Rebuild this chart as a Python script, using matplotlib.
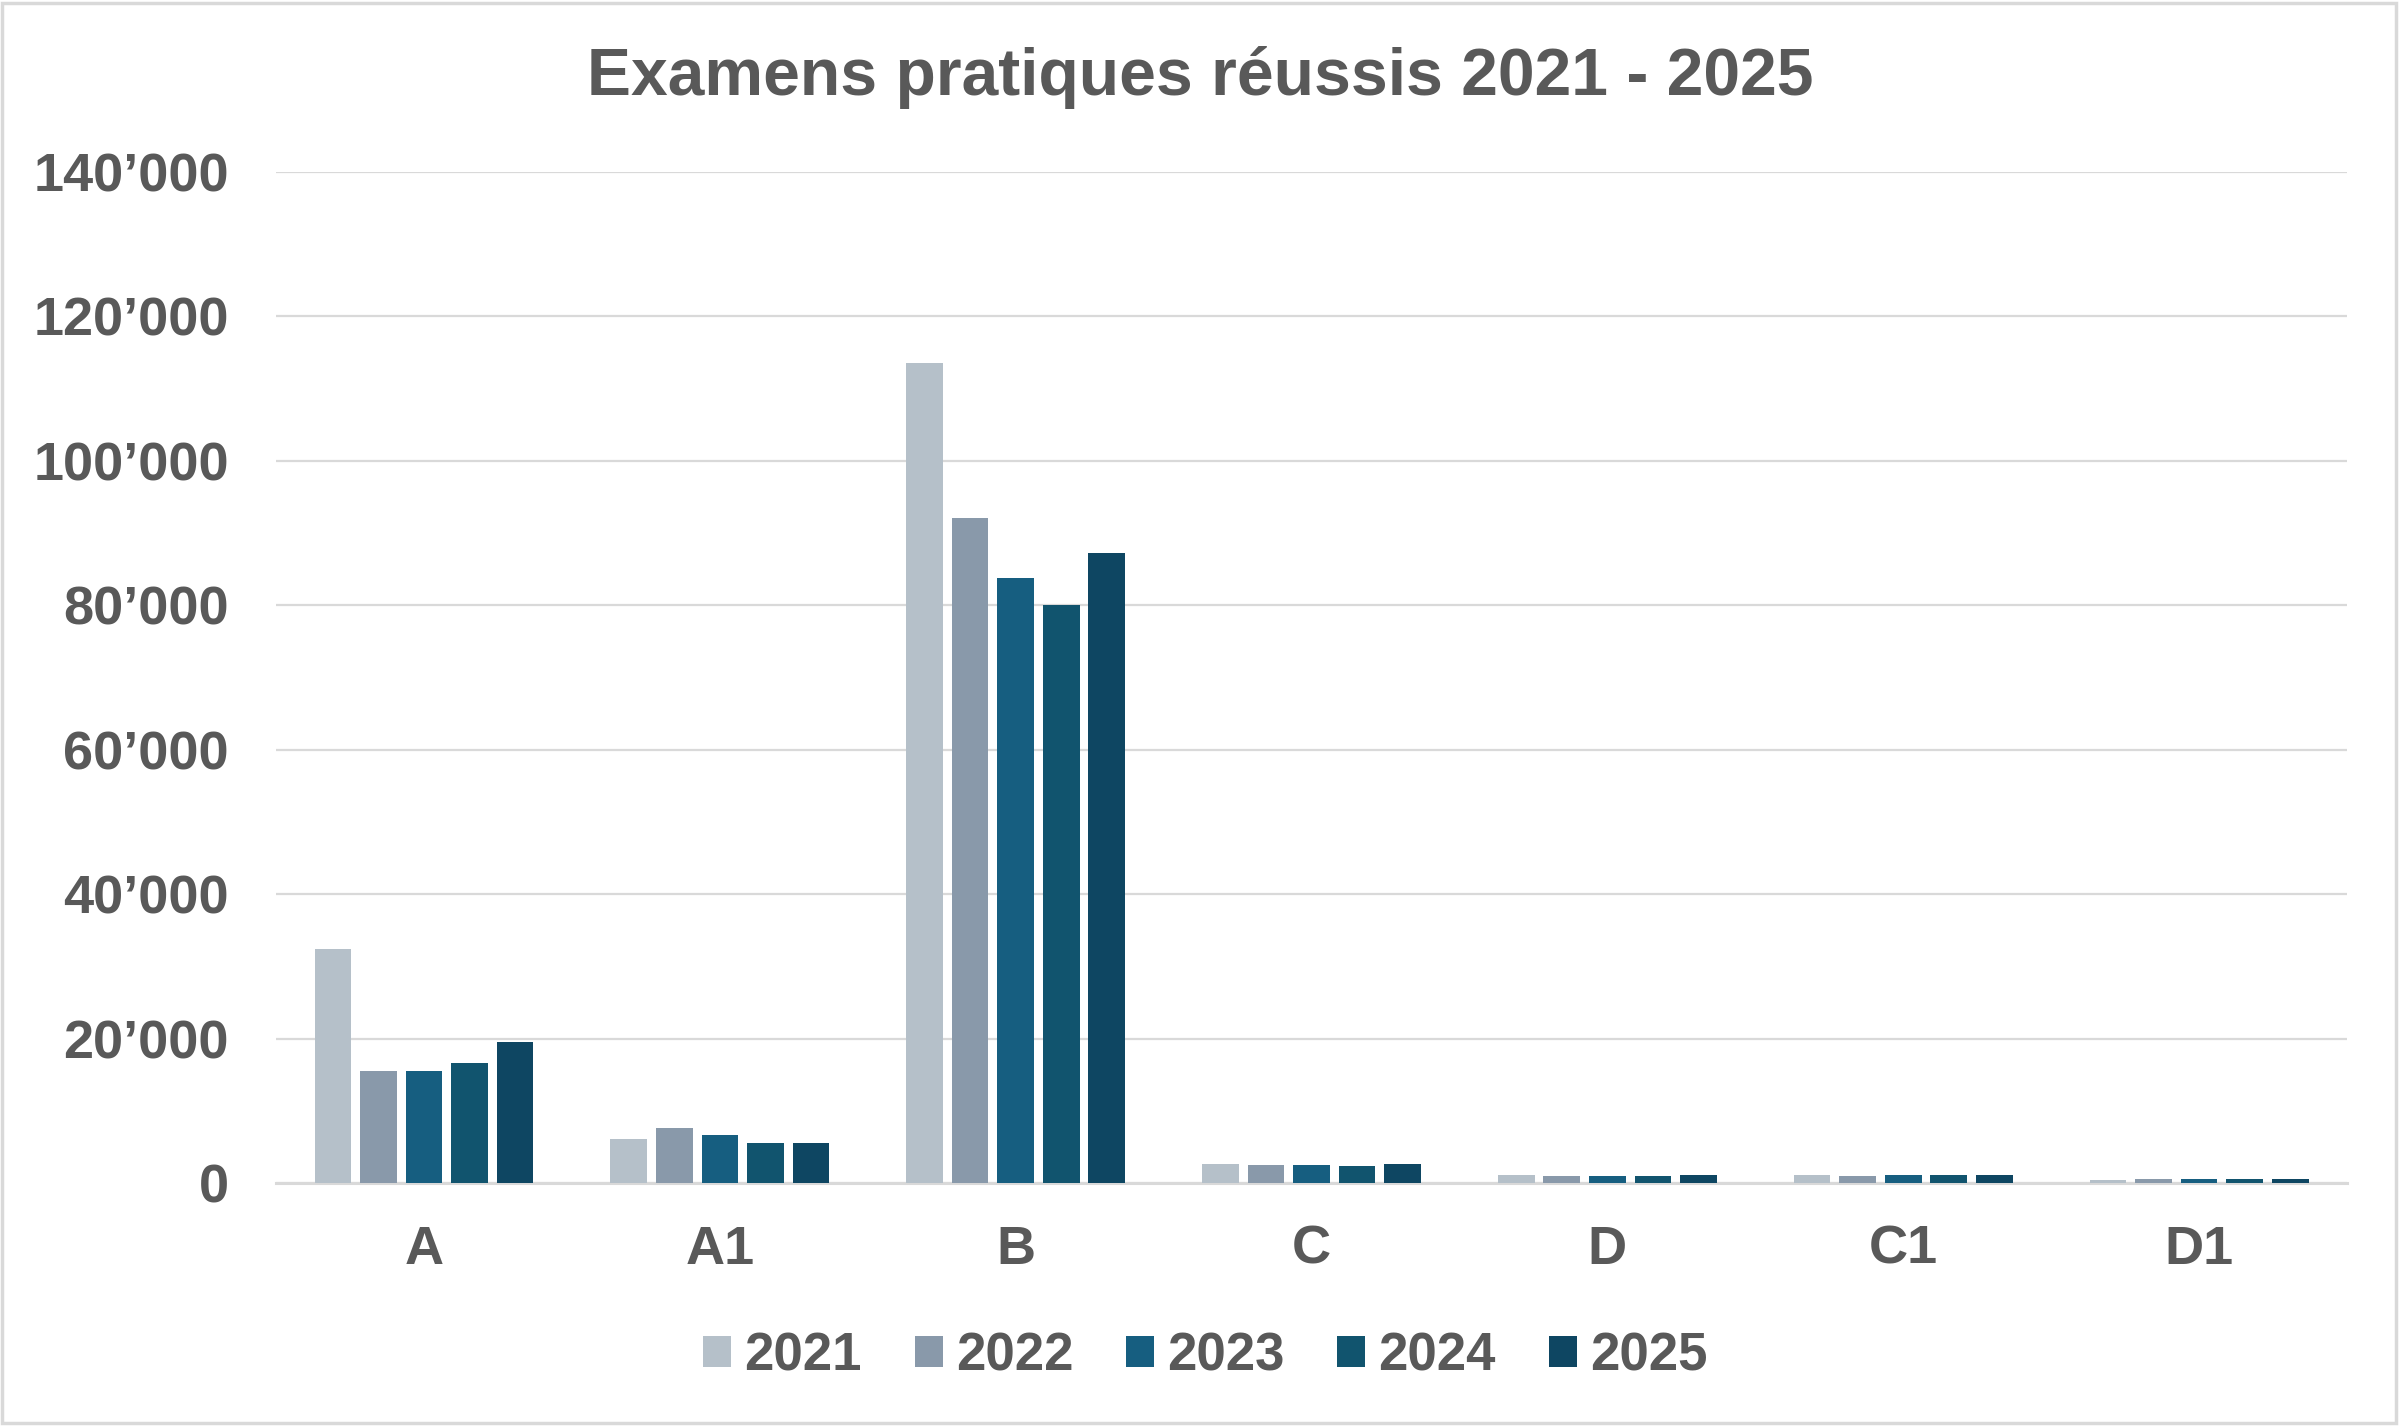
import matplotlib
matplotlib.use("Agg")
import matplotlib.pyplot as plt
import numpy as np
from matplotlib.patches import Rectangle
from matplotlib.ticker import FuncFormatter

categories = ["A", "A1", "B", "C", "D", "C1", "D1"]
years = ["2021", "2022", "2023", "2024", "2025"]

v2021 = [32400, 6150, 113500, 2650, 1100, 1100, 450]
v2022 = [15550, 7550, 92000, 2500, 950, 950, 550]
v2023 = [15550, 6700, 83700, 2500, 950, 1100, 550]
v2024 = [16550, 5600, 80000, 2350, 950, 1100, 550]
v2025 = [19450, 5600, 87200, 2650, 1100, 1100, 550]
series = [v2021, v2022, v2023, v2024, v2025]

colors = ["#B5C0C9", "#8999AA", "#165E80", "#11546E", "#0E4662"]
text_col = "#595959"
grid_col = "#D9D9D9"

plt.rcParams["font.family"] = ["Liberation Sans", "DejaVu Sans"]
plt.rcParams["font.weight"] = "bold"

fig = plt.figure(figsize=(24.01, 14.26), dpi=100)
ax = fig.add_axes([0.115, 0.1704, 0.8625, 0.7093])

x = np.arange(len(categories))
pitch, width = 0.154, 0.124
for j, (vals, c) in enumerate(zip(series, colors)):
    ax.bar(x + (j - 2) * pitch, vals, width, color=c, label=years[j], zorder=3)

ax.set_xlim(-0.5, len(categories) - 0.5)
ax.set_ylim(0, 140000)
ax.set_yticks(np.arange(0, 140001, 20000))
ax.yaxis.set_major_formatter(FuncFormatter(lambda v, p: f"{int(v):,}".replace(",", "\u2019")))
ax.set_xticks(x)
ax.set_xticklabels(categories)
ax.grid(axis="y", color=grid_col, linewidth=1.6, zorder=0)
for s in ["top", "right", "left"]:
    ax.spines[s].set_visible(False)
ax.spines["bottom"].set_color(grid_col)
ax.spines["bottom"].set_linewidth(2.2)
ax.tick_params(axis="both", length=0, labelsize=39, colors=text_col)
ax.tick_params(axis="x", pad=30)
ax.tick_params(axis="y", pad=34)

fig.text(0.5, 0.946, "Examens pratiques réussis 2021 - 2025", ha="center", va="center",
         fontsize=47.5, fontweight="bold", color=text_col)

leg = fig.legend(loc="center", bbox_to_anchor=(0.502, 0.049), ncol=5, frameon=False,
                 fontsize=38, handlelength=0.53, handleheight=0.53, handletextpad=0.25,
                 columnspacing=1.0)
for t in leg.get_texts():
    t.set_color(text_col)

fig.patches.append(Rectangle((0.001, 0.002), 0.997, 0.996, transform=fig.transFigure,
                             fill=False, edgecolor=grid_col, linewidth=2.5))

fig.savefig("out.png", dpi=100, facecolor="white")
